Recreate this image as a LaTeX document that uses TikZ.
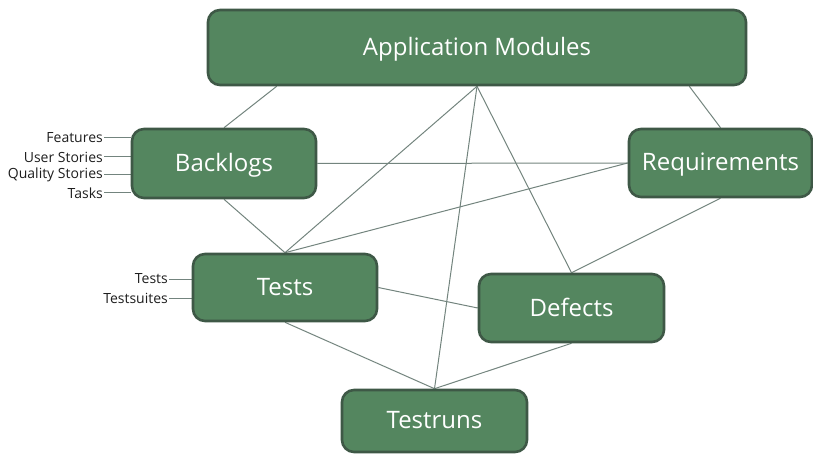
\documentclass[tikz,border=0pt]{standalone}
\usepackage{fontspec}
\setmainfont{Open Sans}
\usetikzlibrary{backgrounds}
\definecolor{boxfill}{RGB}{84,134,95}
\definecolor{boxedge}{RGB}{62,88,70}
\definecolor{linkcol}{RGB}{115,132,126}
\definecolor{lblcol}{RGB}{30,30,30}
\tikzset{
  box/.style={draw=boxedge, line width=2.6pt, fill=boxfill, rounded corners=12pt,
    text=white, font=\fontsize{24}{27}\selectfont, inner sep=0pt, text depth=2pt},
  link/.style={draw=linkcol, line width=1pt},
  lbl/.style={anchor=east, text=lblcol, font=\fontsize{14}{15}\selectfont, inner sep=1pt},
}
\begin{document}
\begin{tikzpicture}[x=1pt,y=-1pt]
\useasboundingbox (0,0) rectangle (813,454);
\node[box, minimum width=538pt, minimum height=75pt] (app) at (477,47.5) {Application Modules};
\node[box, minimum width=184pt, minimum height=69pt] (back) at (224,163.5) {Backlogs};
\node[box, minimum width=183pt, minimum height=68pt] (req) at (720.5,163) {Requirements};
\node[box, minimum width=184pt, minimum height=67pt] (tests) at (285,287.5) {Tests};
\node[box, minimum width=185pt, minimum height=68pt] (def) at (571.5,308) {Defects};
\node[box, minimum width=185pt, minimum height=62pt] (runs) at (434.5,421) {Testruns};

\node[lbl] (feat) at (104,138) {Features};
\node[lbl] (us) at (104,157) {User Stories};
\node[lbl] (qs) at (104,174.5) {Quality Stories};
\node[lbl] (task) at (104,193) {Tasks};
\node[lbl] (tst) at (169,279) {Tests};
\node[lbl] (tsu) at (169,298.5) {Testsuites};

\begin{pgfonlayer}{background}
\draw[link] ([xshift=70pt]app.south west) -- (back.north);
\draw[link] ([xshift=-58pt]app.south east) -- (req.north);
\draw[link] (app.south) -- (tests.north);
\draw[link] (app.south) -- (runs.north);
\draw[link] (app.south) -- (def.north);
\draw[link] (back.east) -- (req.west);
\draw[link] (back.south) -- (tests.north);
\draw[link] (req.west) -- (tests.north);
\draw[link] (req.south) -- (def.north);
\draw[link] (tests.east) -- (def.west);
\draw[link] (tests.south) -- (runs.north);
\draw[link] (def.south) -- (runs.north);
\draw[link] (feat.east) -- (feat.east -| back.west);
\draw[link] (us.east) -- (us.east -| back.west);
\draw[link] (qs.east) -- (qs.east -| back.west);
\draw[link] (task.east) -- (task.east -| back.west);
\draw[link] (tst.east) -- (tst.east -| tests.west);
\draw[link] (tsu.east) -- (tsu.east -| tests.west);
\end{pgfonlayer}
\end{tikzpicture}
\end{document}
